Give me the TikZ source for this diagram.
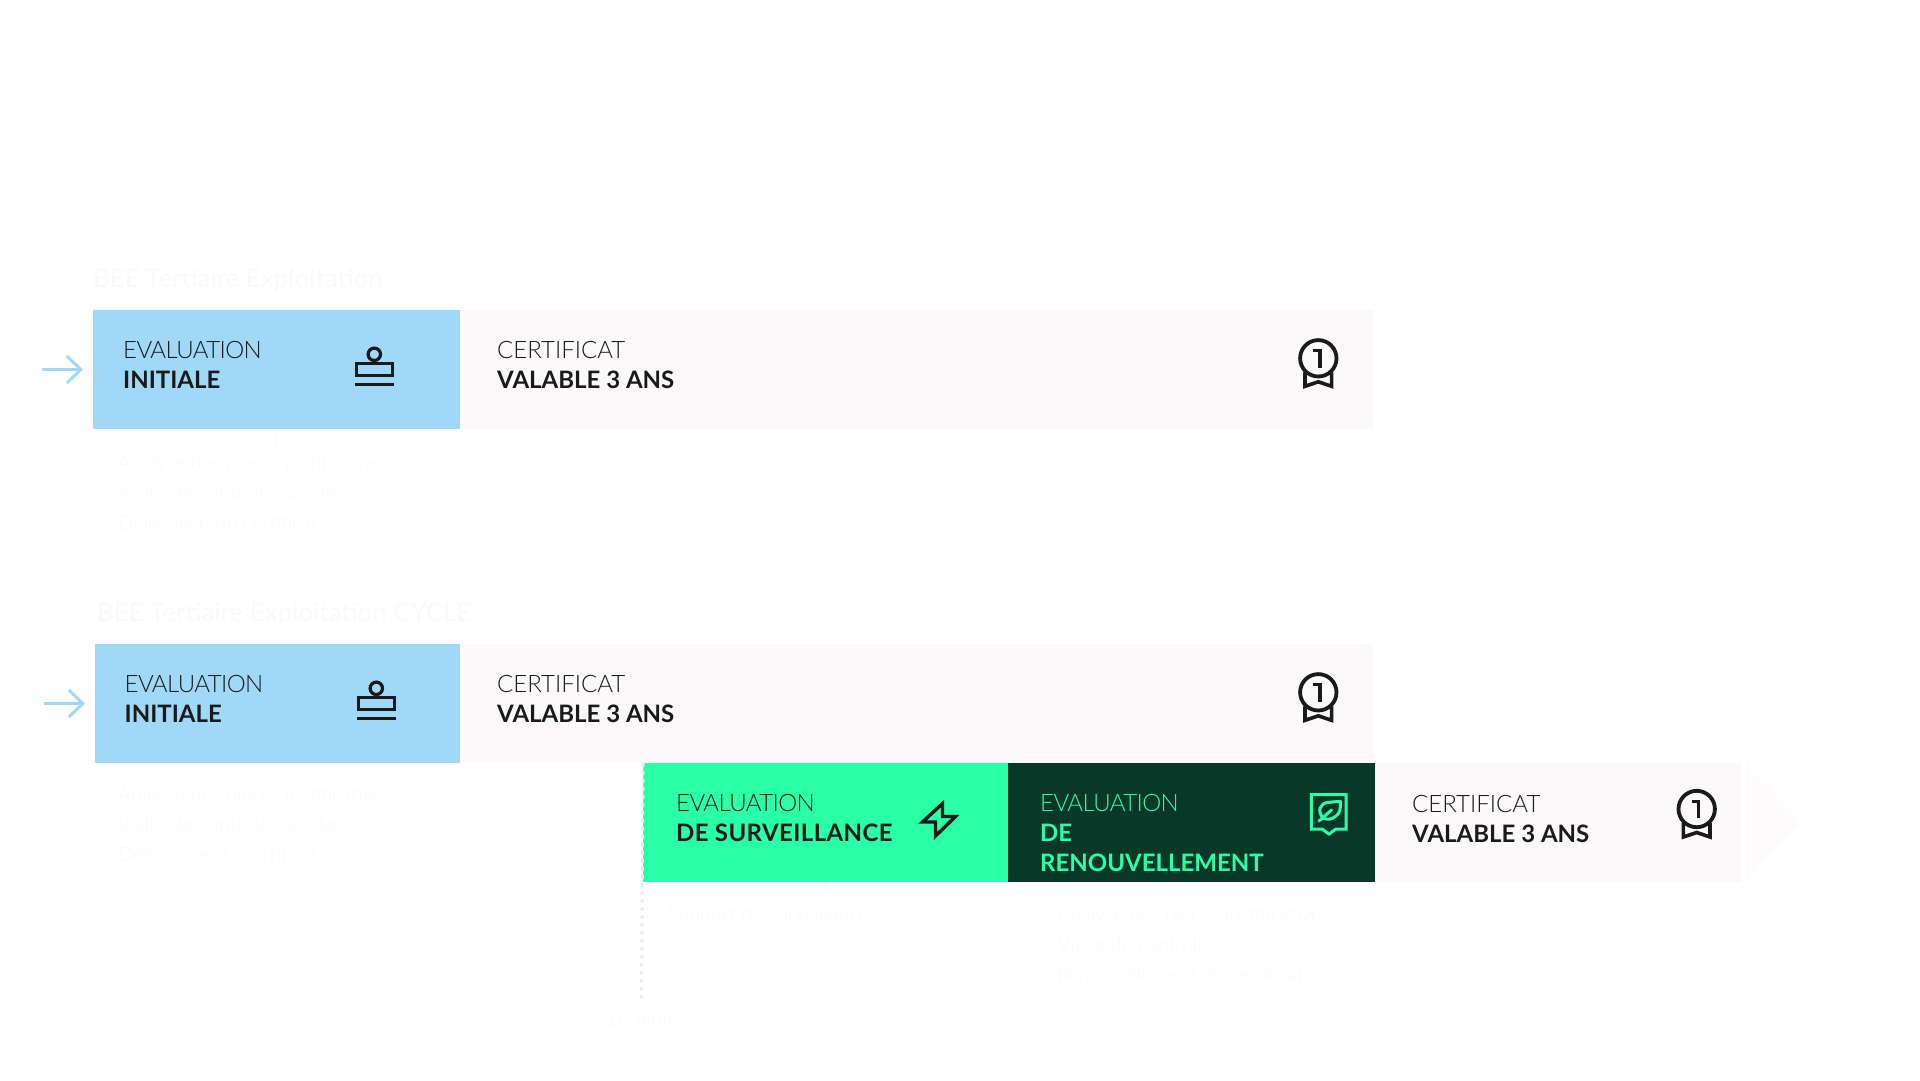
\documentclass[tikz,border=0pt]{standalone}
\usepackage{fontspec}
\setmainfont{Lato}[UprightFont=* Light,BoldFont=* Bold]
\newfontfamily\titlefont{Lato Medium}
\usetikzlibrary{positioning, arrows.meta}

\definecolor{skyblue}{HTML}{A0D8F7}
\definecolor{mint}{HTML}{2AFFA8}
\definecolor{forest}{HTML}{0A3828}
\definecolor{paper}{HTML}{FBF9FA}
\definecolor{ink}{HTML}{1A1A1A}
\newcommand{\evalword}{{\addfontfeature{LetterSpace=-2.5}EVALUATION}}

\tikzset{
  band/.style={anchor=north west,minimum height=119pt,inner sep=0pt,outer sep=0pt},
  boxlabel/.style={anchor=north west,align=left,inner sep=0pt,text=ink,font=\fontsize{24}{30}\selectfont},
  faint/.style={anchor=north west,align=left,inner sep=0pt,text=paper,font=\fontsize{20}{30}\selectfont},
  heading/.style={anchor=west,inner sep=0pt,text=paper,font=\titlefont\fontsize{25.8}{30}\selectfont},
  tick/.style={draw=paper,line width=0.8pt},
  startarrow/.style={draw=skyblue,line width=3pt,shorten >=10pt,-{Straight Barb[length=14pt,width=27pt,line width=3pt]}},
  stampicon/.pic={
    \draw[ink,line width=3.2pt] (0,0) circle (6.2pt);
    \draw[ink,line width=3.2pt] (-18,9.5) rectangle (18,21);
    \draw[ink,line width=3.2pt] (-19.5,30) -- (19.5,30);
  },
  medalicon/.pic={
    \draw[ink,line width=3.8pt] (0,0) circle (18.2pt);
    \draw[ink,line width=3.2pt] (-5,-7.6) -- (1.7,-7.6) -- (1.7,9.4);
    \draw[ink,line width=3.6pt,miter limit=8] (-13.3,14) -- (-13.3,28) -- (0,23.5) -- (13.3,28) -- (13.3,14);
  },
}

\begin{document}
\begin{tikzpicture}[x=1pt,y=-1pt]
\useasboundingbox (0,0) rectangle (1920,1080);

  % first row
  \node[heading] (titleA) at (93,280) {BEE Tertiaire Exploitation};
  \node[band,fill=skyblue,minimum width=367pt] (initA) at (93,310) {};
  \node[band,fill=paper,minimum width=913pt,anchor=west] (certA) [right=0pt of initA] {};
  \node[boxlabel] (initAtext) at (123,341) {\evalword\\\textbf{INITIALE}};
  \node[boxlabel] (certAtext) at (497,341) {CERTIFICAT\\\textbf{VALABLE 3 ANS}};
  \node[faint] (initAlist) at (118,455) {Analyse des pi\`eces justificatives\\Visite de contr\^ole sur site\\D\'elivrance du certificat};
  \coordinate (startA) at (42,369.5);
  \coordinate (tickA) at (276,447);

  % second row
  \node[heading] (titleB) at (97,614) {BEE Tertiaire Exploitation CYCLE};
  \node[band,fill=skyblue,minimum width=365pt] (initB) at (95,644) {};
  \node[band,fill=paper,minimum width=913pt,anchor=west] (certB) [right=0pt of initB] {};
  \node[boxlabel] (initBtext) at (124.5,675) {\evalword\\\textbf{INITIALE}};
  \node[boxlabel] (certBtext) at (497,675) {CERTIFICAT\\\textbf{VALABLE 3 ANS}};
  \node[faint] (initBlist) at (118,787) {Analyse des pi\`eces justificatives\\Visite de contr\^ole sur site\\D\'elivrance du certificat};
  \coordinate (startB) at (44,703.5);
  \coordinate (tickB) at (278,781);

  % third row
  \node[band,fill=mint,minimum width=365pt] (surv) at (643,763) {};
  \node[band,fill=forest,minimum width=367pt,anchor=west] (renew) [right=0pt of surv] {};
  \node[band,fill=paper,minimum width=366pt,anchor=west] (certC) [right=0pt of renew] {};
  \fill[paper!60!white] (1746,763) -- (1801,822.5) -- (1746,882) -- cycle;
  \node[boxlabel] (survtext) at (676,794) {\evalword\\\textbf{\addfontfeature{LetterSpace=1.7}DE SURVEILLANCE}};
  \node[boxlabel,text=mint] (renewtext) at (1040,794) {\evalword\\\textbf{DE}\\\textbf{RENOUVELLEMENT}};
  \node[boxlabel] (certCtext) at (1412,795) {CERTIFICAT\\\textbf{VALABLE 3 ANS}};
  \node[faint] (survlist) at (667,907) {Rapport de surveillance};
  \node[faint] (renewlist) at (1057,907) {Analyse des pi\`eces justificatives\\Visite de contr\^ole\\Renouvellement du certificat};
  \node[faint,anchor=center] (month) at (641,1019) {18 mois};
  \coordinate (ticksurv) at (825,900);
  \coordinate (tickrenew) at (1188,900);
  \coordinate (dashend) at (641.5,998);

  % connectors
  \draw[startarrow] (startA) -- (initA);
  \draw[startarrow] (startB) -- (initB);
  \draw[tick] (initA.south) -- (tickA);
  \draw[tick] (initB.south) -- (tickB);
  \draw[tick] (surv.south) -- (ticksurv);
  \draw[tick] (renew.south) -- (tickrenew);
  \draw[draw=paper!95!black,line width=3pt,dash pattern=on 4pt off 4pt] (surv.north west) -- (dashend);

  % icons
  \pic at (374.3,354.3) {stampicon};
  \pic at (376.3,688.3) {stampicon};
  \pic at (1318.3,358.3) {medalicon};
  \pic at (1318.3,692.3) {medalicon};
  \pic at (1696.7,809) {medalicon};
  \draw[ink,line width=3.4pt,line join=miter] (942.5,803.5) -- (922.5,822) -- (935.5,822) -- (935.5,836) -- (955.5,816.5) -- (942.5,816.5) -- cycle;
  \draw[mint,line width=3pt,line join=miter] (1311.3,794.6) -- (1346,794.6) -- (1346,829) -- (1336,829) -- (1329,834) -- (1322,829) -- (1311.3,829) -- cycle;
  \draw[mint,line width=3pt,line join=round] (1323,818) .. controls (1317,811) and (1320,804) .. (1327,802.5) -- (1340.3,801.3) .. controls (1341,808) and (1340,813) .. (1336,816) .. controls (1332,819.5) and (1327,820) .. (1323,818) -- cycle;
  \draw[mint,line width=3pt,line cap=round] (1319,821) -- (1331.5,810);
\end{tikzpicture}
\end{document}
